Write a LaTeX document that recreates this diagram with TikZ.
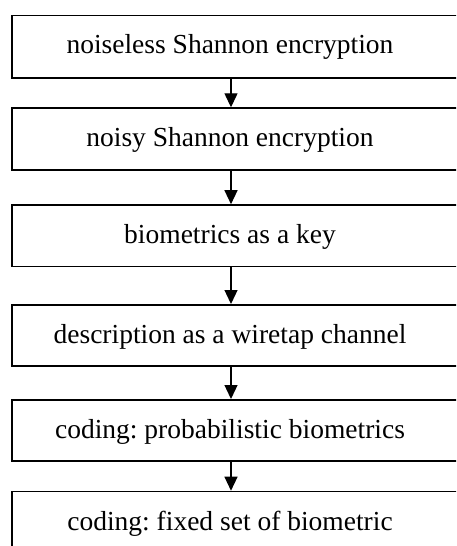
\documentclass[tikz,border=0pt]{standalone}
\usepackage{fontspec}
\setmainfont{Liberation Serif}
\usetikzlibrary{arrows.meta}
\frenchspacing
\begin{document}
\begin{tikzpicture}[x=1pt,y=-1pt,
  boxnode/.style={draw, line width=1.5pt, rectangle, minimum width=470pt, inner sep=0pt, anchor=north west},
  txt/.style={font=\fontsize{27.5}{30}\selectfont, anchor=base, inner sep=0pt},
  arr/.style={line width=1.3pt, -{Triangle[width=13pt,length=14pt]}}]
\useasboundingbox (0,0) rectangle (456,546);
\fill[white] (0,0) rectangle (456,546);
\clip (0,0) rectangle (456,546);
\node[boxnode, minimum height=62.3pt] (b1) at (11,14.7) {};
\node[boxnode, minimum height=62pt]   (b2) at (11,107.3) {};
\node[boxnode, minimum height=61.5pt] (b3) at (11,204.2) {};
\node[boxnode, minimum height=61.3pt] (b4) at (11,304) {};
\node[boxnode, minimum height=61pt]   (b5) at (11,399) {};
\node[boxnode, minimum height=62pt]   (b6) at (11,490.7) {};
\node[txt] (t1) at (230,53) {noiseless Shannon encryption};
\node[txt] (t2) at (230,146.7) {noisy Shannon encryption};
\node[txt] (t3) at (230,243.3) {biometrics as a key};
\node[txt] (t4) at (230,343) {description as a wiretap channel};
\node[txt] (t5) at (230,438) {coding: probabilistic biometrics};
\node[txt] (t6) at (230,530) {coding: fixed set of biometric};
\coordinate (ax) at (231,0);
\draw[arr] (b1.south -| ax) -- (b2.north -| ax);
\draw[arr] (b2.south -| ax) -- (b3.north -| ax);
\draw[arr] (b3.south -| ax) -- (b4.north -| ax);
\draw[arr] (b4.south -| ax) -- (b5.north -| ax);
\draw[arr] (b5.south -| ax) -- (b6.north -| ax);
\end{tikzpicture}
\end{document}
